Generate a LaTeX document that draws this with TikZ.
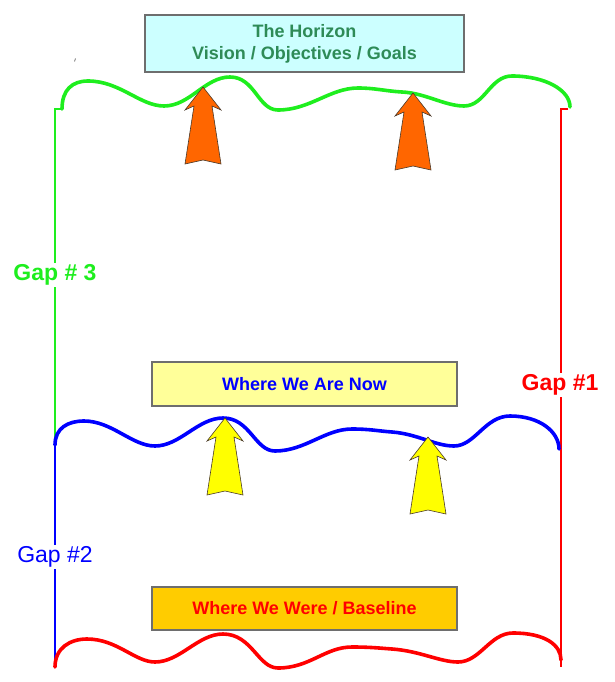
\documentclass[tikz,border=0pt]{standalone}
\usepackage{fontspec}
\setmainfont{Liberation Sans}
\definecolor{hgreen}{HTML}{1EEE1E}
\definecolor{hblue}{HTML}{0000FF}
\definecolor{hred}{HTML}{FF0000}
\definecolor{horange}{HTML}{FF6600}
\definecolor{hyellow}{HTML}{FFFF00}
\definecolor{cyanfill}{HTML}{CCFFFF}
\definecolor{paleyellow}{HTML}{FFFF99}
\definecolor{goldfill}{HTML}{FFCC00}
\definecolor{htext}{HTML}{2E8B57}
\definecolor{boxline}{HTML}{6E6E6E}
\definecolor{arrowline}{HTML}{4A3A2A}
\tikzset{
  wave/.style={line width=3.6pt, line cap=round, line join=round},
  vline/.style={line width=2.8pt},
  infobox/.style={draw=boxline, line width=1.1pt, inner sep=0pt, align=center,
    font=\fontsize{18}{22}\selectfont\bfseries},
  gaplabel/.style={fill=white, inner sep=1.5pt, font=\fontsize{23}{26}\selectfont\bfseries},
  blockarrow/.pic={\path[pic actions] (0,0) -- (18,23) -- (9,19) -- (18,77) -- (0,73)
     -- (-18,77) -- (-9,19) -- (-18,23) -- cycle;},
  arrowstyle/.style={draw=arrowline, line width=0.6pt, line join=miter}
}
\begin{document}
\begin{tikzpicture}[x=1pt,y=-1pt]
\useasboundingbox[fill=white] (0,0) rectangle (615,682);

% boxes
\node[infobox, fill=cyanfill, text=htext, minimum width=319pt, minimum height=57pt]
  (horizon) at (304.5,43.5) {The Horizon\\Vision / Objectives / Goals};
\node[infobox, fill=paleyellow, text=hblue, minimum width=305pt, minimum height=44pt]
  (now) at (304.5,384) {Where We Are Now};
\node[infobox, fill=goldfill, text=hred, minimum width=305pt, minimum height=43pt]
  (were) at (304.5,608.5) {Where We Were / Baseline};

% tiny mark
\draw[gray, line width=0.8pt] (75.5,58.5) -- (74.5,61.5);

% key coordinates
\coordinate (gtop) at (55,109);
\coordinate (gnotch) at (62,109);
\coordinate (junction) at (55,445);
\coordinate (bbot) at (55,667);
\coordinate (rtop) at (561,109);
\coordinate (rnotch) at (568,109);
\coordinate (rbot) at (561,667);

% vertical lines
\draw[vline, hgreen] (gnotch) -- (gtop) -- (junction);
\draw[vline, hblue] (junction) -- (bbot);
\draw[vline, hred] (rnotch) -- (rtop) -- (rbot);

% waves
\draw[wave, hgreen] (gnotch) .. controls (62,90) and (72,81) .. (88,81)
  .. controls (120,81) and (140,106) .. (164,106)
  .. controls (190,106) and (205,77) .. (230,77)
  .. controls (255,77) and (258,110) .. (278,110)
  .. controls (310,110) and (330,88) .. (358,88)
  .. controls (375,88) and (385,91) .. (402,92)
  .. controls (425,93) and (445,106) .. (464,106)
  .. controls (485,106) and (490,76) .. (512,76)
  .. controls (545,76) and (570,90) .. (570,107);

\draw[wave, hblue] (junction) .. controls (55,428) and (68,421) .. (84,421)
  .. controls (112,421) and (132,446) .. (155,446)
  .. controls (180,446) and (198,418) .. (223,418)
  .. controls (250,418) and (255,451) .. (275,451)
  .. controls (305,451) and (325,429) .. (352,429)
  .. controls (370,429) and (378,431) .. (392,432)
  .. controls (418,434) and (435,446) .. (454,446)
  .. controls (475,446) and (485,416) .. (510,416)
  .. controls (540,416) and (559,432) .. (559,449);

\draw[wave, hred] (bbot) .. controls (55,648) and (70,639) .. (87,639)
  .. controls (117,639) and (135,662) .. (155,662)
  .. controls (180,662) and (198,634) .. (223,634)
  .. controls (252,634) and (258,668) .. (278,668)
  .. controls (310,668) and (325,647) .. (352,647)
  .. controls (370,647) and (378,648) .. (392,649)
  .. controls (420,651) and (440,662) .. (458,662)
  .. controls (480,662) and (490,633) .. (513,633)
  .. controls (545,633) and (561,645) .. (561,660);

% block arrows
\pic[arrowstyle, fill=horange] (oarrowA) at (203,87) {blockarrow};
\pic[arrowstyle, fill=horange] (oarrowB) at (413,93) {blockarrow};
\pic[arrowstyle, fill=hyellow] (yarrowA) at (225,418) {blockarrow};
\pic[arrowstyle, fill=hyellow] (yarrowB) at (428,437) {blockarrow};

% gap labels
\node[gaplabel, text=hgreen] (gap3) at (55,275) {Gap \# 3};
\node[gaplabel, text=hred] (gap1) at (560,385) {Gap \#1};
\node[gaplabel, text=hblue, font=\fontsize{23}{26}\selectfont] (gap2) at (55,557) {Gap \#2};
\end{tikzpicture}
\end{document}
